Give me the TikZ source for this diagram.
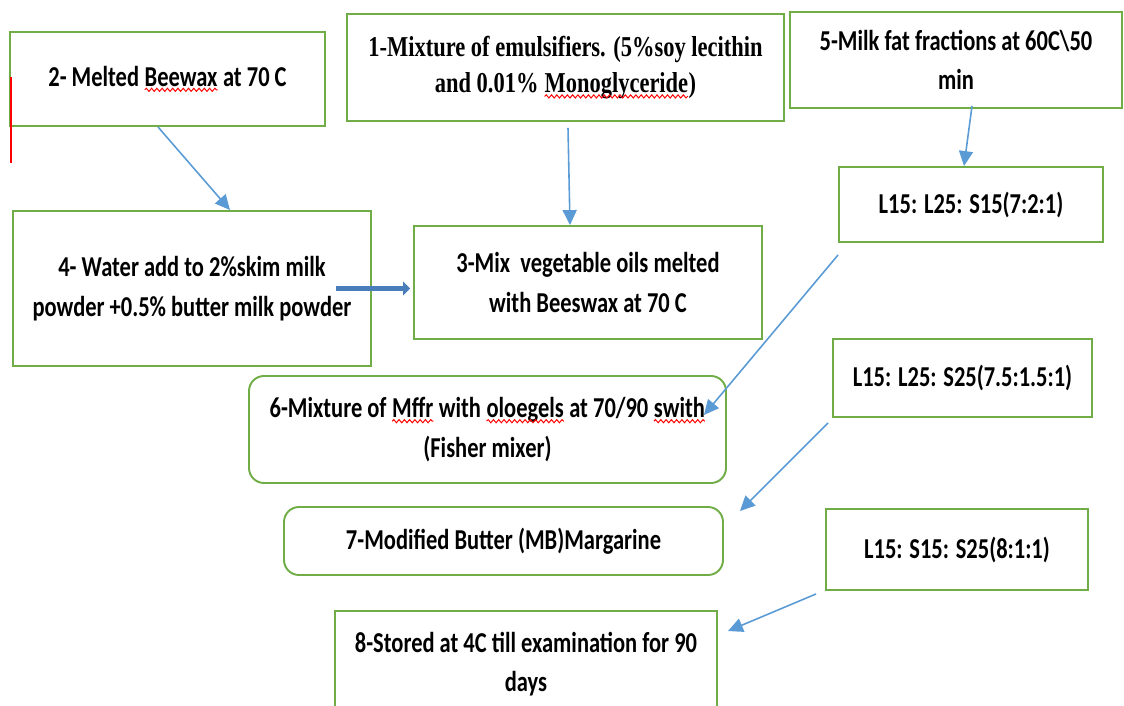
\documentclass[tikz,border=0pt]{standalone}
\usepackage{fontspec}
\setmainfont{Carlito}[FakeStretch=0.78]
\newfontfamily\serifbox{Liberation Serif}[FakeStretch=0.78]
\usepackage{tikz}
\usetikzlibrary{arrows.meta,decorations.pathmorphing,calc}
\definecolor{boxgreen}{HTML}{70AD47}
\definecolor{arrblue}{HTML}{5B9BD5}
\definecolor{fatblue}{HTML}{4A7EBB}
% red spell-check underline
\newcommand{\spellmark}[1]{\tikz[baseline=(sw.base)]{%
  \node[draw=none, inner sep=0pt, outer sep=0pt, minimum width=0pt, minimum height=0pt, sharp corners, align=left] (sw) {#1};
  \draw[red, line width=0.55pt, sharp corners, decorate, decoration={snake, amplitude=0.9pt, segment length=3pt}]
    ([yshift=-2pt]sw.base west) -- ([yshift=-2pt]sw.base east);}}

\begin{document}
\begin{tikzpicture}[
    stepbox/.style={draw=boxgreen, line width=1.1pt, align=center, inner sep=0pt,
      font=\bfseries\fontsize{16.4}{22.5}\selectfont},
    roundbox/.style={stepbox, rounded corners=0.3cm},
    flow/.style={draw=arrblue, line width=0.9pt, -{Triangle[length=8.5pt,width=8pt]}},
    fatflow/.style={draw=fatblue, line width=3pt, -{Triangle[length=4pt,width=8pt]}}]
      % page frame
      \useasboundingbox (0,0) rectangle (22.48,-14.12);
      \clip (0,0) rectangle (22.48,-14.12);

      % top row
      \node[stepbox, minimum width=6.3cm, minimum height=1.88cm] (melt) at (3.35,-1.58)
        {2- Melted \spellmark{Beewax} at 70 C};
      \node[stepbox, minimum width=8.74cm, minimum height=2.14cm, font=\serifbox\bfseries\fontsize{16.4}{21}\selectfont] (emul) at (11.31,-1.35)
        {1-Mixture of emulsifiers. (5\%soy lecithin\\and 0.01\% \spellmark{Monoglyceride})};
      \node[stepbox, minimum width=6.64cm, minimum height=1.92cm] (fat) at (19.12,-1.2)
        {5-Milk fat fractions at 60C\textbackslash 50\\min};

      % stray red mark
      \draw[red, line width=0.8pt] (0.22,-1.54) -- (0.22,-3.26);

      % middle
      \node[stepbox, minimum width=7.16cm, minimum height=3.1cm] (water) at (3.84,-5.77)
        {4- Water add to 2\%skim milk\\powder +0.5\% butter milk powder};
      \node[stepbox, minimum width=6.96cm, minimum height=2.26cm] (oils) at (11.76,-5.65)
        {3-Mix\ \ vegetable oils melted\\with Beeswax at 70 C};
      \node[stepbox, minimum width=5.28cm, minimum height=1.5cm] (ratA) at (19.42,-4.09)
        {L15: L25: S15(7:2:1)};

      \node[roundbox, minimum width=9.54cm, minimum height=2.14cm] (mix) at (9.75,-8.59)
        {6-Mixture of \spellmark{Mffr} with \spellmark{oloegels} at 70/90 \spellmark{swith}\\(Fisher mixer)};
      \node[stepbox, minimum width=5.18cm, minimum height=1.56cm] (ratB) at (19.25,-7.56)
        {L15: L25: S25(7.5:1.5:1)};

      % bottom
      \node[roundbox, minimum width=8.78cm, minimum height=1.36cm] (butter) at (10.07,-10.82)
        {7-Modified Butter (MB)Margarine};
      \node[stepbox, minimum width=5.24cm, minimum height=1.62cm] (ratC) at (19.14,-10.99)
        {L15: S15: S25(8:1:1)};
      \node[stepbox, minimum width=7.64cm, minimum height=2.12cm] (store) at (10.52,-13.28)
        {8-Stored at 4C till examination for 90\\days};

      % arrows
      \draw[flow] ([xshift=-0.19cm]melt.south) -- ([xshift=0.76cm]water.north);
      \draw[flow] ([xshift=0.05cm,yshift=-0.12cm]emul.south) -- ([xshift=-0.36cm]oils.north);
      \draw[flow] ([xshift=0.32cm,yshift=0.06cm]fat.south) -- ([xshift=-0.14cm]ratA.north);
      \draw[flow] ([yshift=-0.24cm]ratA.south west) -- ([shift={(-0.46,0.29)}]mix.east);
      \draw[flow] ([shift={(-0.08,-0.1)}]ratB.south west) -- ([shift={(0.32,-0.1)}]butter.north east);
      \draw[flow] ([shift={(-0.18,-0.06)}]ratC.south west) -- ([shift={(0.2,-0.42)}]store.north east);
      \draw[fatflow] ([xshift=-0.72cm]water.east) -- ([xshift=-0.06cm]water.east -| oils.west);
\end{tikzpicture}
\end{document}
